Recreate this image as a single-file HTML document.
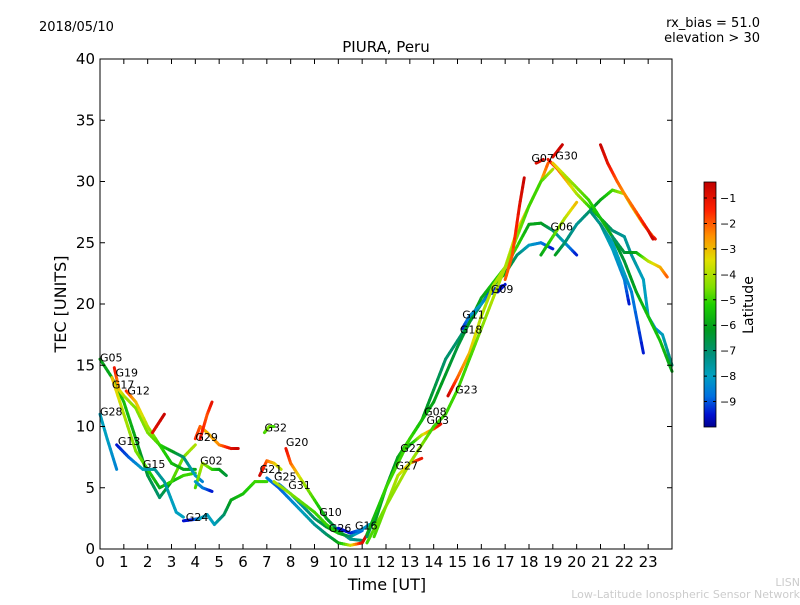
<!DOCTYPE html>
<html><head><meta charset="utf-8"><style>
body{margin:0;background:#fff;font-family:"Liberation Sans","DejaVu Sans",sans-serif}
svg text{font-family:"DejaVu Sans","Liberation Sans",sans-serif}
</style></head><body>
<svg id="chart" width="800" height="600" viewBox="0 0 800 600">
<defs>
<linearGradient id="cbar" x1="0" y1="1" x2="0" y2="0">
<stop offset="0" stop-color="#000090"/><stop offset="0.05" stop-color="#0010d0"/>
<stop offset="0.125" stop-color="#0070e0"/><stop offset="0.21" stop-color="#00a0c0"/>
<stop offset="0.29" stop-color="#009080"/><stop offset="0.395" stop-color="#009a20"/>
<stop offset="0.5" stop-color="#20d000"/><stop offset="0.57" stop-color="#80e000"/>
<stop offset="0.68" stop-color="#e0e000"/><stop offset="0.78" stop-color="#ff9000"/>
<stop offset="0.885" stop-color="#ff2000"/><stop offset="1" stop-color="#c00000"/>
</linearGradient></defs>
<text x="39" y="31" font-size="13">2018/05/10</text>
<text x="760" y="27" font-size="13" text-anchor="end">rx_bias = 51.0</text>
<text x="760" y="42" font-size="13" text-anchor="end">elevation &gt; 30</text>
<text x="386" y="52" font-size="15" text-anchor="middle">PIURA, Peru</text>
<g id="marks"></g>
<rect x="100" y="59" width="572" height="490" fill="none" stroke="#000" stroke-width="1"/>
<g id="axes"></g>
<text x="387" y="590" font-size="16" text-anchor="middle">Time [UT]</text>
<text x="66" y="304" font-size="16" text-anchor="middle" transform="rotate(-90 66 304)">TEC [UNITS]</text>
<rect x="704" y="182" width="12" height="245" fill="url(#cbar)" stroke="#000" stroke-width="0.8"/>
<g id="cbticks"></g>
<text x="753" y="305" font-size="14" text-anchor="middle" transform="rotate(-90 753 305)">Latitude</text>
<text x="800" y="586" font-size="11" fill="#ccc" text-anchor="end">LISN</text>
<text x="800" y="598" font-size="11" fill="#ccc" text-anchor="end">Low-Latitude Ionospheric Sensor Network</text>
</svg>
<script>
const xTicks=[0,1,2,3,4,5,6,7,8,9,10,11,12,13,14,15,16,17,18,19,20,21,22,23];
const yTicks=[0,5,10,15,20,25,30,35,40];
const cbTicks=[-1,-2,-3,-4,-5,-6,-7,-8,-9];
const trackNames=["G05","G17","G19","G12","R1","G28","G13","G29","R2","G02","B1","G24","G32","G21","G20","G25","G31","G10","G26","G27","G22","G08","G18","G11","G09","G23","G03","G30","G06","D1","T1","T2","B2","G07","R3","R4","R5","Y1"];
const tracks=[
[[0,15.5,-6],[0.5,14,-6],[1,12,-5.5],[1.5,9,-6],[2,6,-6.5],[2.5,4.2,-7],[3,5.5,-6],[3.5,6,-5],[4,6.2,-5]],
[[0.5,14,-3],[1,11,-4],[1.5,8,-4.5],[2,6.5,-5],[2.5,5,-6],[3,5.5,-5],[3.5,7.5,-4.5],[4,8.5,-4]],
[[0.6,14.8,-1],[0.8,13,-3],[1,12.5,-4],[1.5,11.5,-4.5],[2,9.5,-4.5],[2.5,8.5,-5],[3,7,-5.5],[3.5,6.5,-6],[4,6.5,-6]],
[[1.1,12.9,-1.5],[1.5,12,-3],[2,10,-4],[2.5,8.5,-5],[3,8,-6],[3.5,7.5,-7],[4,6,-8],[4.3,5.5,-8.5]],
[[2.2,9.5,-1],[2.7,11,-0.5]],
[[0,11,-8],[0.3,9,-8],[0.7,6.5,-8.5]],
[[0.7,8.5,-9.5],[1.2,7.5,-9],[1.8,6.5,-8],[2.3,6.5,-7.5],[2.7,5.5,-7.5],[3,4,-8],[3.2,3,-8],[3.5,2.6,-8]],
[[4,9,-1.5],[4.2,10,-2],[4.5,9.5,-3],[5,8.5,-2.5],[5.5,8.2,-1],[5.8,8.2,-0.5]],
[[4.2,9,-1],[4.5,11,-2],[4.7,12,-1]],
[[4,5,-5],[4.3,7,-4],[4.7,6.5,-5],[5,6.5,-6],[5.3,6,-6.5]],
[[4,5.5,-8],[4.3,5,-8.5],[4.7,4.7,-9.5]],
[[3.5,2.3,-9.5],[3.9,2.4,-9.5],[4.2,2.5,-8],[4.5,2.8,-8],[4.8,2,-8],[5.2,2.8,-7],[5.5,4,-6],[6,4.5,-5.5],[6.5,5.5,-5],[7,5.5,-5]],
[[6.9,9.5,-5],[7.1,10,-4.5],[7.3,10,-5]],
[[6.7,6,-0.5],[7,7.2,-2],[7.3,7,-3],[7.6,6.5,-4]],
[[7.8,8.2,-1],[8,7,-2],[8.5,5.5,-4],[9,4,-5],[9.5,2.5,-6],[10,1.5,-7],[10.5,0.8,-7.5],[11,0.7,-7]],
[[7,5.8,-8.5],[7.5,5,-9],[8,4,-8.5],[8.5,3,-8],[9,2,-7.5],[9.5,1.2,-7],[10,0.5,-6],[10.5,0.3,-4],[11,0.5,-1],[11.3,1.5,-0.5]],
[[7.5,5.3,-9],[8,4.5,-8],[8.5,3.5,-7.5],[9,2.5,-7],[9.5,1.8,-6.5],[10,1.3,-5],[10.5,1,-3]],
[[7.3,5.5,-4],[8,4.5,-4.5],[9,3,-5],[9.5,2,-5],[10,1.3,-5.5],[10.5,1,-7],[11,1.5,-9]],
[[10,1.7,-9.5],[10.5,1.3,-9.5],[11,1.6,-8.5],[11.3,2,-8]],
[[11.5,1,-5],[12,3.5,-4.5],[12.5,6,-4],[13,7,-3],[13.5,7.4,-1]],
[[11.5,2,-6],[12,5,-6],[12.5,7.5,-7],[13,8.5,-6],[13.5,9.3,-4],[14,9.8,-2],[14.3,10.2,-1]],
[[11.2,1,-7],[12,5,-6.5],[12.5,7.5,-6],[13,9,-5],[13.5,10.5,-6],[14,13,-6.5],[14.5,15.5,-7],[15,17,-7],[15.5,18.5,-7],[16,20,-7],[16.5,21.5,-6.5],[17,22.5,-6],[17.5,24,-7],[18,24.8,-8],[18.5,25,-8.5],[19,24.5,-9.5]],
[[11.2,1.2,-6],[12,5,-5],[13,9,-5],[14,12,-6],[15,16.5,-6.5],[16,20.5,-6],[17,23,-5],[17.5,24.7,-5],[18,26.5,-6],[18.5,26.6,-6],[19,26,-7],[19.5,25,-8],[20,24,-9.5]],
[[15.2,18,-9.5],[15.5,19,-8.5],[16,20,-8],[16.5,21.2,-9.5],[16.9,21.5,-9.5]],
[[16.3,20.8,-9],[16.7,21,-9.5],[17,21.6,-9.5]],
[[14.6,12.5,-0.5],[15,14,-2],[15.5,16,-3],[16,19,-4],[16.5,21.5,-4],[17,23,-4],[17.5,26,-3.5],[18,28,-3],[18.5,30,-3],[18.8,31.5,-2]],
[[11.2,0.5,-5],[12,3.5,-4.5],[13,7,-4],[14,10,-5],[14.5,11,-5],[15,13,-5],[15.5,15.5,-5],[16,18,-4.5],[16.5,20.5,-4],[17,23,-4],[17.5,25.5,-4.5],[18,28,-5],[18.5,30,-5],[19,31,-4]],
[[18.8,31.8,-1],[19.2,31,-2],[19.6,30,-3],[20,29,-4],[20.5,28,-5],[21,27,-6],[21.5,26,-7],[22,25.5,-7.5],[22.3,24,-7.5],[22.8,22,-8],[23,19,-8],[23.3,18,-8.5],[23.6,17.5,-8],[24,15,-7]],
[[19.1,24,-6],[19.5,25,-7],[20,26.5,-7.5],[20.5,27.5,-7],[21,28.5,-6],[21.5,29.3,-5],[22,29,-4],[22.3,28,-3.5],[22.8,26.5,-3],[23.2,25.5,-2],[23.3,25.3,-1]],
[[19,31.5,-3],[19.5,30.5,-4],[20,29.5,-4.5],[20.5,28.5,-5],[21,27,-5.5],[21.5,25.5,-6],[22,23.5,-6.5],[22.5,21,-6],[23,19,-5.5],[23.5,17,-5.5],[24,14.5,-6]],
[[20.6,27.5,-7],[21,26.5,-7.5],[21.5,24.5,-8],[22,22,-8.5],[22.2,20,-9.5]],
[[21.5,25.5,-7],[22,24.2,-6.5],[22.5,24.2,-6],[23,23.5,-4],[23.5,23,-3],[23.8,22.2,-2]],
[[21,26.5,-7],[21.5,25,-8],[22,22.5,-8],[22.3,21,-8.5],[22.8,16,-9.5]],
[[17,22,-2],[17.3,24,-2],[17.6,28,-1],[17.8,30.3,-0.5]],
[[18.3,31.5,-1],[18.6,31.8,-0.5]],
[[19,32,-1],[19.4,33,-0.5]],
[[21,33,-0.5],[21.3,31.5,-1],[21.7,30,-2],[22,29,-2.5],[22.5,27.5,-2],[23,26,-1],[23.2,25.3,-0.5]],
[[18.5,24,-6],[19,25.5,-5],[19.5,27,-4],[20,28.3,-3]]
];
const labelText=["G05","G19","G17","G12","G28","G13","G15","G29","G02","G24","G32","G20","G21","G25","G31","G10","G26","G16","G22","G27","G08","G03","G23","G18","G11","G09","G07","G30","G06"];
const labelT=[0,0.65,0.5,1.15,0,0.75,1.8,4,4.2,3.6,6.9,7.8,6.7,7.3,7.9,9.2,9.6,10.7,12.6,12.4,13.6,13.7,14.9,15.1,15.2,16.4,18.1,19.1,18.9];
const labelV=[15.3,14.1,13.1,12.6,10.9,8.5,6.6,8.8,6.9,2.3,9.6,8.4,6.2,5.6,4.9,2.7,1.4,1.6,7.9,6.5,10.9,10.2,12.7,17.6,18.8,20.9,31.6,31.8,26]; 
const NS="http://www.w3.org/2000/svg";
const xs=t=>100+t*572/24, ys=v=>549-v*12.25;
const cbY=l=>182+(-0.37-l)*245/9.63;
const stops=[[-10,[0,0,144]],[-9.5,[0,16,208]],[-8.8,[0,112,224]],[-8,[0,160,192]],[-7.2,[0,144,128]],[-6.2,[0,154,32]],[-5.2,[32,208,0]],[-4.5,[128,224,0]],[-3.5,[224,224,0]],[-2.5,[255,144,0]],[-1.5,[255,32,0]],[-0.37,[192,0,0]]];
function col(l){l=Math.max(-10,Math.min(-0.37,l));for(let i=0;i<stops.length-1;i++){const a=stops[i],b=stops[i+1];if(l<=b[0]){const f=(l-a[0])/(b[0]-a[0]);return 'rgb('+a[1].map((c,k)=>Math.round(c+(b[1][k]-c)*f)).join(',')+')';}}return 'rgb(192,0,0)';}
const marks=document.getElementById('marks'),axes=document.getElementById('axes');
tracks.forEach((tr,ti)=>{
 const g=document.createElementNS(NS,'g');
 
 
 for(let i=0;i<tr.length-1;i++){
  const a=tr[i],b=tr[i+1];const n=6;
  for(let k=0;k<n;k++){
   const f0=k/n,f1=(k+1)/n;
   const ln=document.createElementNS(NS,'line');
   ln.setAttribute('x1',xs(a[0]+(b[0]-a[0])*f0));ln.setAttribute('y1',ys(a[1]+(b[1]-a[1])*f0));
   ln.setAttribute('x2',xs(a[0]+(b[0]-a[0])*f1));ln.setAttribute('y2',ys(a[1]+(b[1]-a[1])*f1));
   ln.setAttribute('stroke',col(a[2]+(b[2]-a[2])*(f0+f1)/2));ln.setAttribute('stroke-width','3');ln.setAttribute('stroke-linecap','round');
   g.appendChild(ln);
  }
 }
 marks.appendChild(g);
});
labelText.forEach((s,i)=>{
 const t=document.createElementNS(NS,'text');
 
 
 t.setAttribute('x',xs(labelT[i]));t.setAttribute('y',ys(labelV[i]));t.setAttribute('font-size','11');t.textContent=s;marks.appendChild(t);
});
xTicks.forEach(v=>{
 const x=xs(v);
 const l=document.createElementNS(NS,'path');
 
 
 l.setAttribute('d',`M${x},549v-5M${x},59v5`);l.setAttribute('stroke','#000');axes.appendChild(l);
 const t=document.createElementNS(NS,'text');
 
 
 t.setAttribute('x',x);t.setAttribute('y',567);t.setAttribute('font-size','15');t.setAttribute('text-anchor','middle');t.textContent=v;axes.appendChild(t);
});
yTicks.forEach(v=>{
 const y=ys(v);
 const l=document.createElementNS(NS,'path');
 
 
 l.setAttribute('d',`M100,${y}h5M672,${y}h-5`);l.setAttribute('stroke','#000');axes.appendChild(l);
 const t=document.createElementNS(NS,'text');
 
 
 t.setAttribute('x',95);t.setAttribute('y',y+5);t.setAttribute('font-size','15');t.setAttribute('text-anchor','end');t.textContent=v;axes.appendChild(t);
});
const cb=document.getElementById('cbticks');
cbTicks.forEach(v=>{
 const y=cbY(v);
 const l=document.createElementNS(NS,'path');
 
 
 l.setAttribute('d',`M704,${y}h3M716,${y}h-3`);l.setAttribute('stroke','#000');cb.appendChild(l);
 const t=document.createElementNS(NS,'text');
 
 
 t.setAttribute('x',720);t.setAttribute('y',y+4);t.setAttribute('font-size','11');t.textContent='\u2212'+Math.abs(v);cb.appendChild(t);
});
</script>
</body></html>
